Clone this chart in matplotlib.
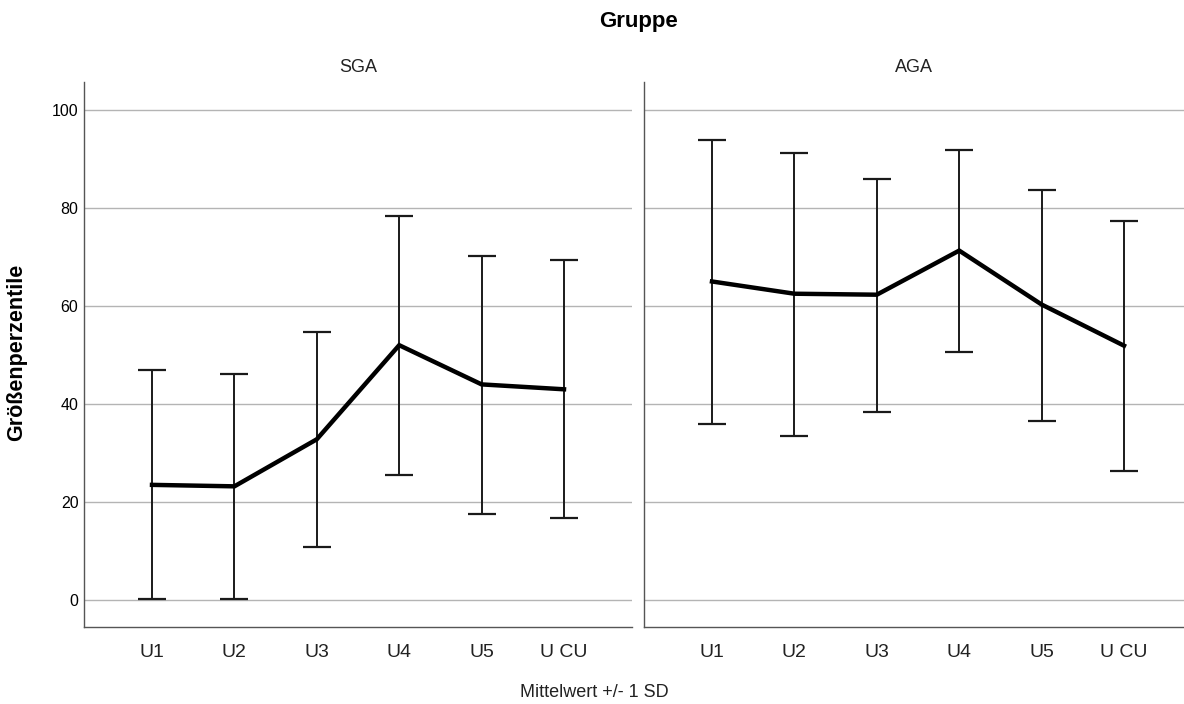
import matplotlib.pyplot as plt

plt.rcParams['font.family'] = ['Liberation Sans', 'DejaVu Sans']

# Messzeitpunkte
zeitpunkte = ['U1', 'U2', 'U3', 'U4', 'U5', 'U CU']

# Mittelwerte und Grenzen (Mittelwert +/- 1 SD) je Gruppe
sga_mittel = [23.5, 23.2, 32.8, 52.0, 44.0, 43.0]
sga_oben = [46.9, 46.1, 54.7, 78.4, 70.1, 69.3]
sga_unten = [0.3, 0.3, 10.8, 25.6, 17.5, 16.7]

aga_mittel = [65.0, 62.5, 62.3, 71.3, 60.3, 51.9]
aga_oben = [93.9, 91.3, 85.9, 91.8, 83.7, 77.3]
aga_unten = [35.9, 33.4, 38.4, 50.7, 36.6, 26.3]

gruppen = [('SGA', sga_mittel, sga_oben, sga_unten),
           ('AGA', aga_mittel, aga_oben, aga_unten)]

fig = plt.figure(figsize=(11.84, 7.04), dpi=100)
W, H = 1184, 704

# Panels in Pixelkoordinaten (links, rechts)
panels = [(84, 632), (644, 1184)]
top, bottom = 82, 627
step = 82.4  # Pixel pro Kategorie

achsen = []
for (x0, x1), (name, mittel, oben, unten) in zip(panels, gruppen):
    ax = fig.add_axes([x0 / W, 1 - bottom / H, (x1 - x0) / W, (bottom - top) / H])
    xs = list(range(len(zeitpunkte)))
    lo = -68 / step
    ax.set_xlim(lo, lo + (x1 - x0) / step)
    ax.set_ylim(-5.5, 105.7)

    for y in range(0, 101, 20):
        ax.axhline(y, color='#b4b4b4', lw=1.0, zorder=0)

    fehler = [[m - u for m, u in zip(mittel, unten)],
              [o - m for m, o in zip(mittel, oben)]]
    ax.errorbar(xs, mittel, yerr=fehler, fmt='none', ecolor='#1a1a1a',
                elinewidth=1.4, capsize=10, capthick=1.6, zorder=2)
    ax.plot(xs, mittel, color='black', lw=3.2, solid_joinstyle='miter', zorder=3)

    ax.set_xticks(xs)
    ax.set_xticklabels(zeitpunkte, fontsize=14, color='#222222')
    ax.tick_params(axis='x', length=0, pad=12)
    ax.set_yticks(range(0, 101, 20))
    ax.tick_params(axis='y', length=0, labelsize=11.5, pad=4)

    for s in ['top', 'right']:
        ax.spines[s].set_visible(False)
    for s in ['left', 'bottom']:
        ax.spines[s].set_color('#555555')
        ax.spines[s].set_linewidth(1.0)

    # Gruppenname über dem Panel
    fig.text((x0 + x1) / 2 / W, 1 - 72 / H, name, ha='center', va='baseline',
             fontsize=13, color='#222222')
    achsen.append(ax)

achsen[1].set_yticklabels([])

fig.text(17 / W, 1 - 352 / H, 'Größenperzentile', rotation=90, ha='center',
         va='center', fontsize=15.5, fontweight='bold')
fig.text(638 / W, 1 - 27 / H, 'Gruppe', ha='center', va='baseline',
         fontsize=16, fontweight='bold')
fig.text(594 / W, 1 - 697 / H, 'Mittelwert +/- 1 SD', ha='center', va='baseline',
         fontsize=13, color='#222222')

plt.savefig('out.png', dpi=100)
